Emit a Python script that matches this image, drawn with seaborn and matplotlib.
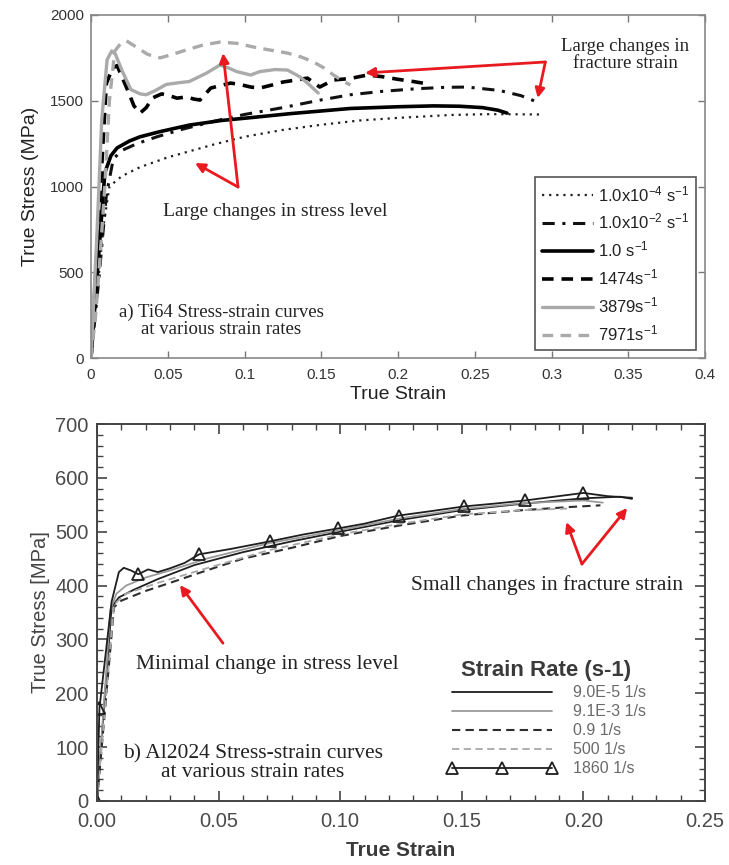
import numpy as np
import pandas as pd
import matplotlib
matplotlib.use("Agg")
import matplotlib.pyplot as plt
from matplotlib.ticker import MultipleLocator, FixedLocator, FixedFormatter
import seaborn as sns

# ---------------- Ti64 curves (panel a) ----------------
ti_strain_1e4 = [0, 0.004, 0.008, 0.012, 0.02, 0.032, 0.05, 0.064, 0.08, 0.1, 0.125,
                 0.15, 0.175, 0.2, 0.234, 0.26, 0.292]
ti_stress_1e4 = [0, 380, 760, 1000, 1060, 1113, 1170, 1205, 1245, 1290, 1330,
                 1360, 1385, 1400, 1417, 1422, 1420]

ti_strain_1e2 = [0, 0.005, 0.010, 0.0145, 0.02, 0.03, 0.043, 0.06, 0.08, 0.1, 0.125,
                 0.15, 0.169, 0.19, 0.212, 0.23, 0.245, 0.266, 0.28, 0.29]
ti_stress_1e2 = [0, 450, 950, 1160, 1210, 1250, 1290, 1335, 1380, 1420, 1460,
                 1505, 1535, 1555, 1570, 1578, 1580, 1560, 1530, 1495]

ti_strain_1 = [0, 0.004, 0.009, 0.013, 0.017, 0.025, 0.032, 0.045, 0.064, 0.085, 0.108,
               0.13, 0.169, 0.2, 0.223, 0.24, 0.255, 0.265, 0.271]
ti_stress_1 = [0, 480, 1080, 1180, 1225, 1265, 1290, 1320, 1358, 1385, 1405,
               1425, 1455, 1465, 1470, 1468, 1460, 1445, 1428]

ti_strain_1474 = [0, 0.005, 0.01, 0.014, 0.017, 0.023, 0.028, 0.032, 0.036, 0.040, 0.046,
                  0.051, 0.056, 0.062, 0.067, 0.071, 0.078, 0.085, 0.091, 0.097, 0.104,
                  0.11, 0.118, 0.125, 0.133, 0.141, 0.149, 0.158, 0.169, 0.18, 0.19,
                  0.2, 0.21, 0.218]
ti_stress_1474 = [0, 800, 1600, 1690, 1705, 1580, 1470, 1428, 1460, 1516, 1540,
                  1530, 1515, 1522, 1510, 1504, 1574, 1590, 1603, 1595, 1580,
                  1574, 1592, 1609, 1620, 1632, 1580, 1621, 1630, 1650, 1640,
                  1625, 1612, 1600]

ti_strain_3879 = [0, 0.004, 0.007, 0.0105, 0.0135, 0.016, 0.02, 0.026, 0.032, 0.036, 0.042,
                  0.049, 0.057, 0.064, 0.075, 0.084, 0.09, 0.095, 0.104, 0.11, 0.12,
                  0.128, 0.136, 0.142, 0.148]
ti_stress_3879 = [0, 750, 1390, 1740, 1790, 1770, 1680, 1565, 1540, 1535, 1560,
                  1595, 1605, 1612, 1660, 1708, 1690, 1670, 1650, 1670, 1682,
                  1679, 1640, 1595, 1545]

ti_strain_7971 = [0, 0.003, 0.006, 0.009, 0.012, 0.0155, 0.019, 0.023, 0.03, 0.037, 0.045,
                  0.053, 0.062, 0.073, 0.084, 0.095, 0.106, 0.117, 0.128, 0.137, 0.145,
                  0.152, 0.158, 0.164, 0.169]
ti_stress_7971 = [0, 250, 600, 1000, 1500, 1790, 1830, 1850, 1810, 1770, 1750,
                  1770, 1796, 1825, 1842, 1835, 1813, 1795, 1778, 1755, 1726,
                  1690, 1650, 1615, 1592]

ti_labels = [r"1.0x10$^{-4}$ s$^{-1}$", r"1.0x10$^{-2}$ s$^{-1}$", r"1.0 s$^{-1}$",
             r"1474s$^{-1}$", r"3879s$^{-1}$", r"7971s$^{-1}$"]

# ---------------- Al2024 curves (panel b) ----------------
al_strain_9e5 = [0, 0.003, 0.006, 0.009, 0.015, 0.025, 0.04, 0.06, 0.08, 0.1, 0.125,
                 0.15, 0.175, 0.2, 0.215, 0.22]
al_stress_9e5 = [0, 180, 360, 378, 392, 412, 438, 462, 482, 500, 522,
                 540, 552, 562, 565, 561]

al_strain_9e3 = [0, 0.003, 0.0055, 0.008, 0.012, 0.02, 0.03, 0.045, 0.07, 0.1, 0.125,
                 0.15, 0.175, 0.2, 0.208]
al_stress_9e3 = [0, 190, 355, 385, 400, 415, 428, 450, 478, 503, 525,
                 542, 553, 558, 554]

al_strain_09 = [0, 0.0035, 0.007, 0.01, 0.02, 0.03, 0.045, 0.06, 0.08, 0.1, 0.125,
                0.15, 0.175, 0.195, 0.207]
al_stress_09 = [0, 180, 360, 372, 390, 405, 428, 450, 470, 492, 512,
                530, 540, 546, 549]

al_strain_500 = [0, 0.0035, 0.007, 0.012, 0.025, 0.045, 0.07, 0.1, 0.125, 0.15, 0.175,
                 0.194]
al_stress_500 = [0, 182, 365, 385, 405, 432, 465, 495, 515, 532, 540,
                 543]

al_strain_1860 = [0, 0.001, 0.006, 0.009, 0.011, 0.014, 0.017, 0.021, 0.025, 0.03, 0.036,
                  0.042, 0.055, 0.071, 0.085, 0.099, 0.11, 0.124, 0.137, 0.151, 0.163,
                  0.176, 0.188, 0.2, 0.21, 0.22]
al_stress_1860 = [0, 172, 370, 425, 433, 428, 421, 430, 425, 432, 442,
                  458, 468, 482, 495, 506, 515, 530, 538, 547, 552,
                  558, 565, 572, 566, 563]
al_marker_idx = [0, 1, 6, 11, 13, 15, 17, 19, 21, 23]

al_labels = ["9.0E-5 1/s", "9.1E-3 1/s", "0.9 1/s", "500 1/s", "1860 1/s"]

# ---------------- styling ----------------
sns.set_theme(style="ticks")
plt.rcParams["font.family"] = ["Liberation Sans", "DejaVu Sans"]
plt.rcParams["mathtext.fontset"] = "custom"
plt.rcParams["mathtext.rm"] = "Liberation Sans"
plt.rcParams["mathtext.it"] = "Liberation Sans:italic"
plt.rcParams["mathtext.bf"] = "Liberation Sans:bold"

SERIF = ["Liberation Serif", "DejaVu Serif"]
RED = "#e8191f"

fig = plt.figure(figsize=(7.29, 8.65), dpi=100)
ax1 = fig.add_axes([91 / 729, (865 - 358) / 865, 614 / 729, 343 / 865])
ax2 = fig.add_axes([97 / 729, (865 - 801) / 865, 608 / 729, 377 / 865])


def curve(ax, xs, ys, **kw):
    df = pd.DataFrame({"strain": xs, "stress": ys})
    sns.lineplot(data=df, x="strain", y="stress", ax=ax, sort=False,
                 estimator=None, **kw)


# ---- panel a ----
curve(ax1, ti_strain_1e4, ti_stress_1e4, color="#222222", lw=1.6,
      linestyle=(0, (1, 2.2)), label=ti_labels[0])
curve(ax1, ti_strain_1e2, ti_stress_1e2, color="#111111", lw=2.2,
      linestyle=(0, (4, 2.5, 1, 2.5)), label=ti_labels[1])
curve(ax1, ti_strain_1, ti_stress_1, color="#000000", lw=2.6,
      linestyle="-", label=ti_labels[2])
curve(ax1, ti_strain_1474, ti_stress_1474, color="#000000", lw=2.6,
      linestyle=(0, (3.2, 2.2)), label=ti_labels[3])
curve(ax1, ti_strain_3879, ti_stress_3879, color="#aaaaaa", lw=2.4,
      linestyle="-", label=ti_labels[4])
curve(ax1, ti_strain_7971, ti_stress_7971, color="#aaaaaa", lw=2.4,
      linestyle=(0, (3.2, 2.2)), label=ti_labels[5])

ax1.set_xlim(0, 0.4)
ax1.set_ylim(0, 2000)
ax1.xaxis.set_major_locator(FixedLocator([0, 0.05, 0.1, 0.15, 0.2, 0.25, 0.3, 0.35, 0.4]))
ax1.xaxis.set_major_formatter(FixedFormatter(["0", "0.05", "0.1", "0.15", "0.2",
                                               "0.25", "0.3", "0.35", "0.4"]))
ax1.yaxis.set_major_locator(MultipleLocator(500))
ax1.tick_params(direction="in", length=5, width=1, colors="#777777",
                labelcolor="#333333", labelsize=11, top=True, right=True)
ax1.tick_params(axis="x", pad=7)
ax1.tick_params(axis="y", pad=5)
for sp in ax1.spines.values():
    sp.set_color("#888888")
    sp.set_linewidth(1.2)
ax1.set_xlabel("True Strain", fontsize=14, color="#222222", labelpad=3)
ax1.set_ylabel("True Stress (MPa)", fontsize=14, color="#222222", labelpad=8)

leg1 = ax1.legend(loc="lower right", bbox_to_anchor=(0.985, 0.023), borderaxespad=0,
                  fontsize=12, handlelength=3.1, handletextpad=0.25, labelspacing=0.48,
                  frameon=True, fancybox=False, framealpha=1, edgecolor="#555555",
                  borderpad=0.4)
leg1.get_frame().set_linewidth(1.2)
for t in leg1.get_texts():
    t.set_color("#222222")

ax1.text(0.085, 216, "a) Ti64 Stress-strain curves\nat various strain rates",
         ha="center", va="center", fontsize=13.5, family=SERIF, color="#222222",
         linespacing=1.05)
ax1.text(0.12, 857, "Large changes in stress level", ha="center", va="center",
         fontsize=14, family=SERIF, color="#222222")
ax1.text(0.348, 1767, "Large changes in\nfracture strain", ha="center", va="center",
         fontsize=13.5, family=SERIF, color="#222222", linespacing=1.05)

arrow = dict(arrowstyle="-|>", color=RED, lw=2.0, mutation_scale=14, shrinkA=0, shrinkB=0)
ax1.annotate("", xy=(0.0678, 1137), xytext=(0.0958, 997), arrowprops=arrow)
ax1.annotate("", xy=(0.086, 1778), xytext=(0.0958, 997), arrowprops=arrow)
ax1.annotate("", xy=(0.1785, 1662), xytext=(0.296, 1726), arrowprops=arrow)
ax1.annotate("", xy=(0.291, 1516), xytext=(0.296, 1726), arrowprops=arrow)

# ---- panel b ----
curve(ax2, al_strain_9e5, al_stress_9e5, color="#1e1e1e", lw=1.3,
      linestyle="-", label=al_labels[0])
curve(ax2, al_strain_9e3, al_stress_9e3, color="#9a9a9a", lw=1.3,
      linestyle="-", label=al_labels[1])
curve(ax2, al_strain_09, al_stress_09, color="#2e2e2e", lw=1.5,
      linestyle=(0, (4, 2.5)), label=al_labels[2])
curve(ax2, al_strain_500, al_stress_500, color="#a8a8a8", lw=1.3,
      linestyle=(0, (4, 2.5)), label=al_labels[3])
curve(ax2, al_strain_1860, al_stress_1860, color="#1e1e1e", lw=1.3,
      linestyle="-", marker="^", markevery=al_marker_idx, markersize=9,
      markerfacecolor="none", markeredgecolor="#1e1e1e", markeredgewidth=1.3,
      label=al_labels[4])

ax2.set_xlim(0, 0.25)
ax2.set_ylim(0, 700)
ax2.xaxis.set_major_locator(MultipleLocator(0.05))
ax2.xaxis.set_minor_locator(MultipleLocator(0.01))
ax2.xaxis.set_major_formatter(plt.FormatStrFormatter("%.2f"))
ax2.yaxis.set_major_locator(MultipleLocator(100))
ax2.yaxis.set_minor_locator(MultipleLocator(20))
ax2.tick_params(which="both", direction="in", top=True, right=True, colors="#444444")
ax2.tick_params(which="major", length=7, width=1.2, labelsize=14.5, labelcolor="#4a4a4a")
ax2.tick_params(which="minor", length=4, width=1.0)
ax2.tick_params(axis="x", pad=8)
ax2.tick_params(axis="y", pad=6)
for sp in ax2.spines.values():
    sp.set_color("#444444")
    sp.set_linewidth(1.4)
ax2.set_xlabel("True Strain", fontsize=15, fontweight="bold", color="#3a3a3a", labelpad=7)
ax2.set_ylabel("True Stress [MPa]", fontsize=14.5, color="#444444", labelpad=4)

leg2 = ax2.legend(loc="upper left", bbox_to_anchor=(0.565, 0.39), borderaxespad=0,
                  title="Strain Rate (s-1)", fontsize=11.5, numpoints=3,
                  handlelength=6.9, handletextpad=1.0, labelspacing=0.25,
                  frameon=False, labelcolor="#6a6a6a")
leg2.get_title().set_fontsize(16)
leg2.get_title().set_fontweight("bold")
leg2.get_title().set_color("#3a3a3a")

ax2.text(0.064, 70, "b) Al2024 Stress-strain curves\nat various strain rates",
         ha="center", va="center", fontsize=15.5, family=SERIF, color="#222222",
         linespacing=1.0)
ax2.text(0.070, 254, "Minimal change in stress level", ha="center", va="center",
         fontsize=15.5, family=SERIF, color="#222222")
ax2.text(0.185, 401, "Small changes in fracture strain", ha="center", va="center",
         fontsize=15.5, family=SERIF, color="#222222")

ax2.annotate("", xy=(0.0341, 401), xytext=(0.0518, 293), arrowprops=arrow)
ax2.annotate("", xy=(0.193, 518), xytext=(0.1994, 440), arrowprops=arrow)
ax2.annotate("", xy=(0.218, 544), xytext=(0.1994, 440), arrowprops=arrow)

fig.savefig("out.png", dpi=100)
